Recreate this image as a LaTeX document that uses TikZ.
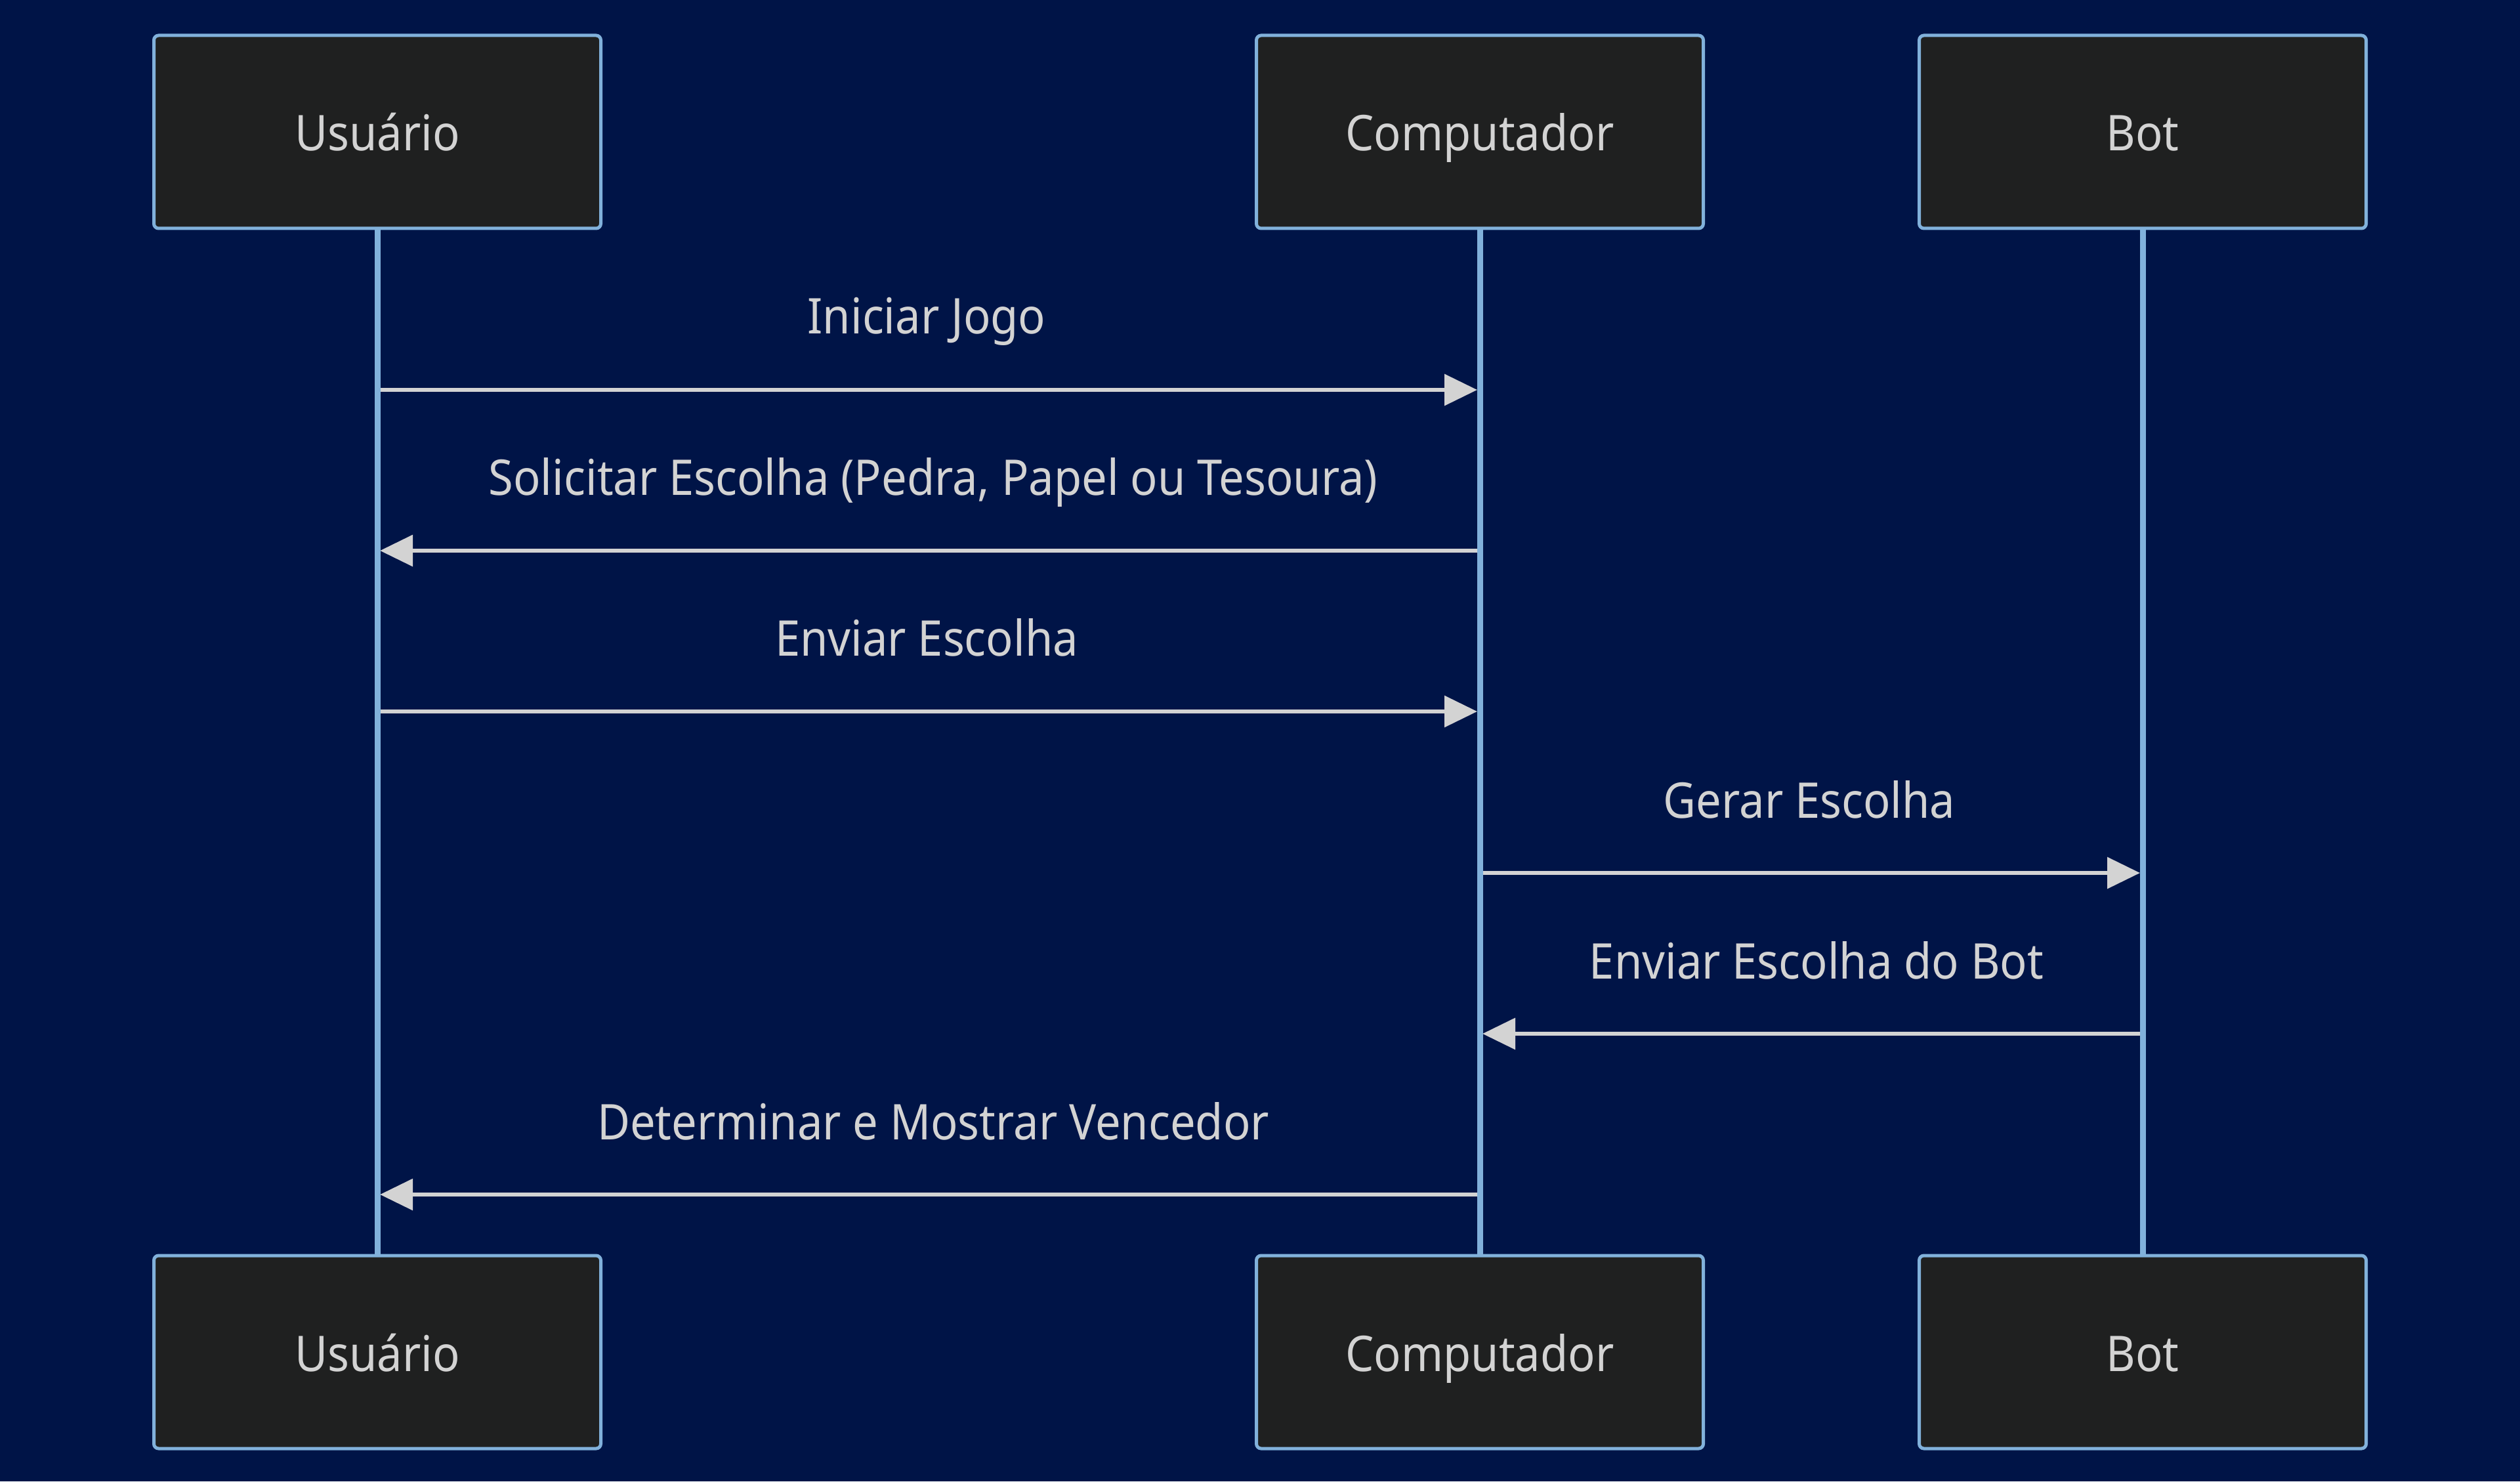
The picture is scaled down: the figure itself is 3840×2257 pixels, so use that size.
\documentclass[tikz,border=0pt]{standalone}
\usepackage{fontspec}
\setmainfont[FakeStretch=0.915]{Noto Sans}
\usetikzlibrary{arrows.meta}
\definecolor{bg}{HTML}{001447}
\definecolor{boxfill}{HTML}{1F2020}
\definecolor{lifeblue}{HTML}{81B1DB}
\definecolor{txt}{HTML}{D3D3D3}
\begin{document}
\begin{tikzpicture}[x=0.25pt,y=-0.25pt,
  actor/.style={rectangle, rounded corners=1.8pt, minimum width=170.25pt, minimum height=73.5pt,
    fill=boxfill, draw=lifeblue, line width=1.25pt, text=txt, inner sep=0pt,
    text height=14.5pt, text depth=0pt,
    font=\fontsize{18.75}{22}\selectfont},
  life/.style={draw=lifeblue, line width=2.25pt},
  msg/.style={draw=txt, line width=1.6pt, -{Triangle[length=12.5pt,width=11.75pt]}},
  lbl/.style={text=txt, inner sep=0pt, anchor=base, font=\fontsize{18.75}{22}\selectfont}]
\fill[bg] (0,0) rectangle (3840,2257);
\useasboundingbox (0,0) rectangle (3840,2257);
% lifeline anchor nodes drawn after actors
\node[actor] (uT) at (575,201) {Usuário};
\node[actor] (cT) at (2255,201) {Computador};
\node[actor] (bT) at (3265,201) {Bot};
\node[actor] (uB) at (575,2060) {Usuário};
\node[actor] (cB) at (2255,2060) {Computador};
\node[actor] (bB) at (3265,2060) {Bot};
% lifelines
\draw[life] (uT.south) -- (uB.north);
\draw[life] (cT.south) -- (cB.north);
\draw[life] (bT.south) -- (bB.north);
% message anchor points
\coordinate (u1) at (580,594);  \coordinate (c1) at (2251,594);
\coordinate (c2) at (2251,839); \coordinate (u2) at (579,839);
\coordinate (u3) at (580,1084); \coordinate (c3) at (2251,1084);
\coordinate (c4) at (2260,1330); \coordinate (b4) at (3261,1330);
\coordinate (b5) at (3261,1575); \coordinate (c5) at (2259,1575);
\coordinate (c6) at (2251,1820); \coordinate (u6) at (579,1820);
% messages
\draw[msg] (u1) -- (c1);
\draw[msg] (c2) -- (u2);
\draw[msg] (u3) -- (c3);
\draw[msg] (c4) -- (b4);
\draw[msg] (b5) -- (c5);
\draw[msg] (c6) -- (u6);
% labels
\node[lbl] (l1) at (1412,509) {Iniciar Jogo};
\node[lbl] (l2) at (1422,754) {Solicitar Escolha (Pedra, Papel ou Tesoura)};
\node[lbl] (l3) at (1412,999) {Enviar Escolha};
\node[lbl] (l4) at (2757,1246) {Gerar Escolha};
\node[lbl] (l5) at (2768,1491) {Enviar Escolha do Bot};
\node[lbl] (l6) at (1422,1736) {Determinar e Mostrar Vencedor};
\end{tikzpicture}
\end{document}
